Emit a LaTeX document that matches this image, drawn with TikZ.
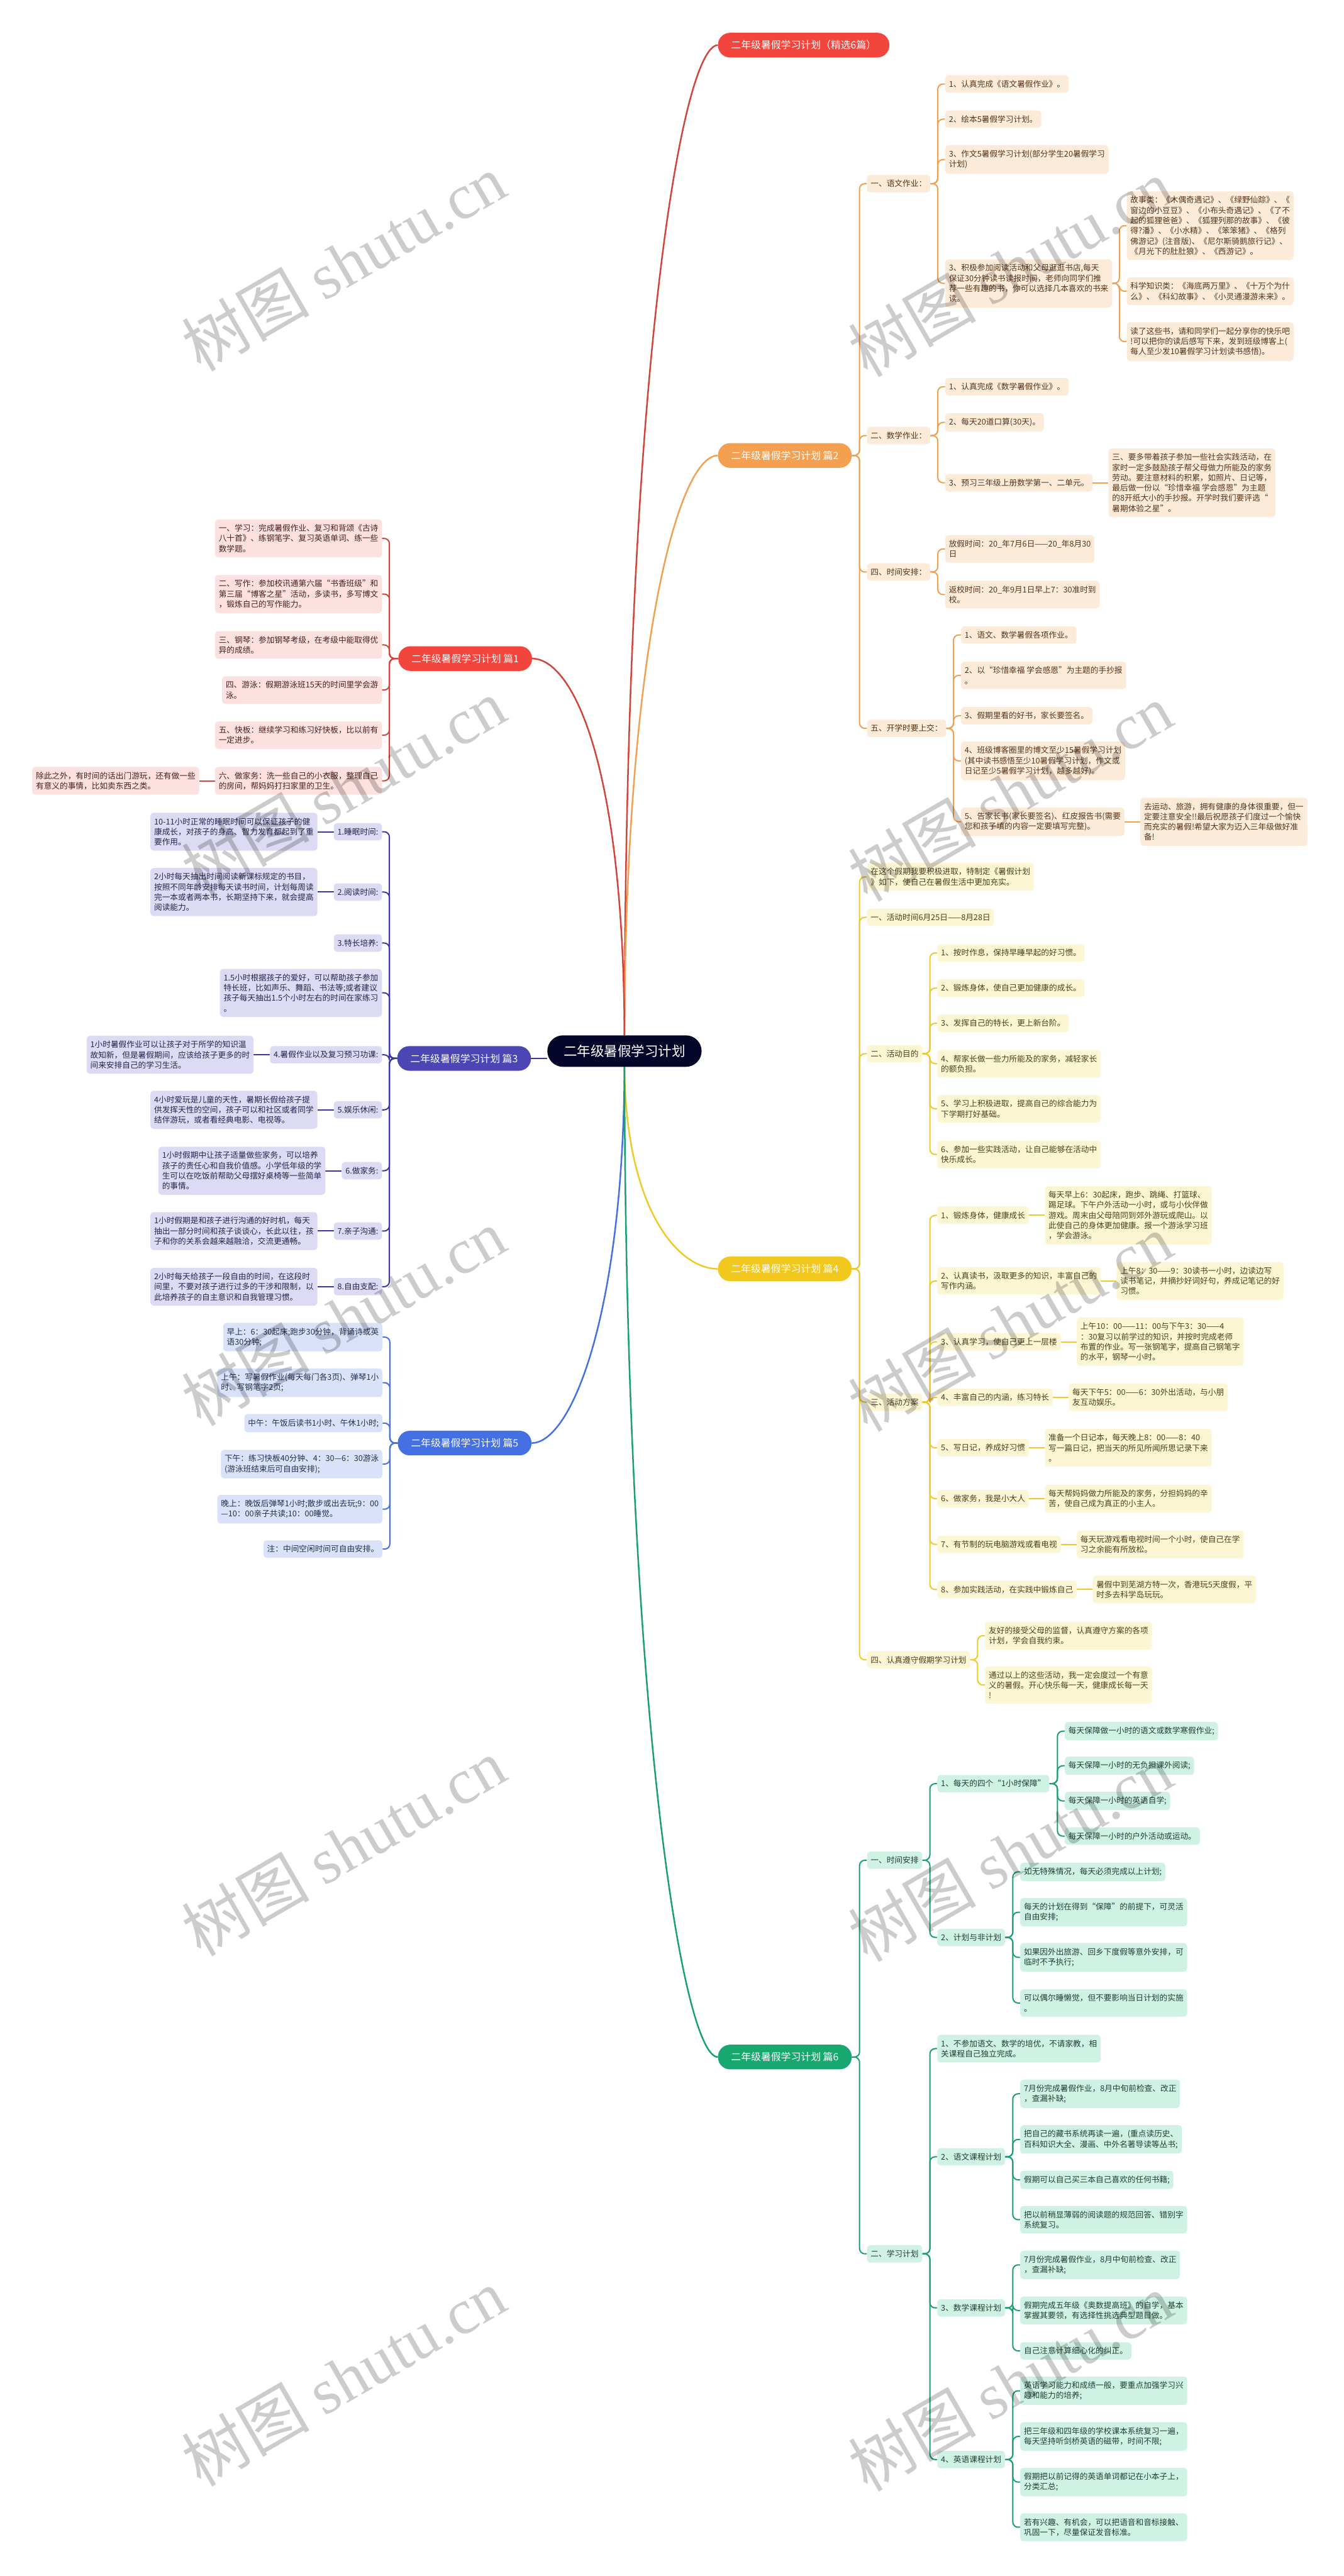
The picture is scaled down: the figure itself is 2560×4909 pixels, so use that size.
\documentclass[tikz,border=0pt]{standalone}
\usepackage{fontspec}
\newfontfamily\cjk{Noto Sans CJK SC}
\newfontfamily\wmlat{Liberation Serif}
\usetikzlibrary{backgrounds}
\definecolor{rootc}{HTML}{06062A}
\definecolor{redc}{HTML}{F2453D}\definecolor{redline}{HTML}{D0443C}\definecolor{redbox}{HTML}{FDE0E0}\definecolor{redtext}{HTML}{4A2020}
\definecolor{orc}{HTML}{F4A050}\definecolor{orline}{HTML}{F0A050}\definecolor{orbox}{HTML}{FDEBDA}\definecolor{ortext}{HTML}{553518}
\definecolor{yec}{HTML}{F2C81F}\definecolor{yeline}{HTML}{F0C828}\definecolor{yebox}{HTML}{FDF6D5}\definecolor{yetext}{HTML}{4A4020}
\definecolor{grc}{HTML}{17A870}\definecolor{grline}{HTML}{1AA070}\definecolor{grbox}{HTML}{D0F2E4}\definecolor{grtext}{HTML}{1F4034}
\definecolor{puc}{HTML}{4B46B4}\definecolor{puline}{HTML}{3D389F}\definecolor{pubox}{HTML}{DDDBF3}\definecolor{putext}{HTML}{27244F}
\definecolor{blc}{HTML}{4470E3}\definecolor{blline}{HTML}{4470E3}\definecolor{blbox}{HTML}{DAE2FA}\definecolor{bltext}{HTML}{22304F}
\newcommand\cnR[3]{\draw[ln,#1] (#2.east) -| ([xshift=-14pt]#3.west) -- (#3.west);}
\newcommand\cnL[3]{\draw[ln,#1] (#2.west) -| ([xshift=14pt]#3.east) -- (#3.east);}
\newcommand\stR[3]{\draw[ln,#1] (#2.east) -- (#3.west);}
\newcommand\stL[3]{\draw[ln,#1] (#2.west) -- (#3.east);}
\begin{document}
\begin{tikzpicture}[x=1pt,y=-1pt,
  box/.style={rounded corners=6pt, inner xsep=7pt, inner ysep=9.5pt, align=left, font=\cjk\fontsize{15.2}{19.5}\selectfont},
  br/.style={box, fill=redbox, text=redtext},
  bo/.style={box, fill=orbox, text=ortext},
  by/.style={box, fill=yebox, text=yetext},
  bg/.style={box, fill=grbox, text=grtext},
  bp/.style={box, fill=pubox, text=putext},
  bb/.style={box, fill=blbox, text=bltext},
  lvone/.style={rounded corners=23pt, minimum height=47pt, inner xsep=25pt, inner ysep=0pt, text=white, font=\cjk\fontsize{19}{22}\selectfont},
  rootstyle/.style={fill=rootc, text=white, rounded corners=30pt, minimum width=294pt, minimum height=60pt, font=\cjk\fontsize{25.8}{28}\selectfont},
  ln/.style={line width=2.4pt, rounded corners=10pt},
  lw/.style={line width=3pt},
  wm/.style={rotate=30, text=black, opacity=0.2, inner sep=0pt, font=\cjk\fontsize{122}{122}\selectfont}
]
\useasboundingbox (0,0) rectangle (2560,4909);

\node[rootstyle] (root) at (1190,2003) {二年级暑假学习计划};

% top red
\node[lvone, fill=redc, anchor=west] (p0) at (1368,86) {二年级暑假学习计划（精选6篇）};

% ===== 篇2 =====
\node[lvone, fill=orc, anchor=west] (p2) at (1368,868) {二年级暑假学习计划 篇2};
\node[bo, anchor=west] (a) at (1652,350) {一、语文作业：};
\node[bo, anchor=west] (a1) at (1801,160) {1、认真完成《语文暑假作业》。};
\node[bo, anchor=west] (a2) at (1801,227) {2、绘本5暑假学习计划。};
\node[bo, anchor=west] (a3) at (1801,304) {3、作文5暑假学习计划(部分学生20暑假学习\\计划)};
\node[bo, anchor=west] (a4) at (1801,540) {3、积极参加阅读活动和父母逛逛书店,每天\\保证30分钟读书读报时间，老师向同学们推\\荐一些有趣的书，你可以选择几本喜欢的书来\\读。};
\node[bo, anchor=west] (a41) at (2147,430) {故事类：《木偶奇遇记》、《绿野仙踪》、《\\窗边的小豆豆》、《小布头奇遇记》、《了不\\起的狐狸爸爸》、《狐狸列那的故事》、《彼\\得?潘》、《小水精》、《笨笨猪》、《格列\\佛游记》(注音版)、《尼尔斯骑鹅旅行记》、\\《月光下的肚肚狼》、《西游记》。};
\node[bo, anchor=west] (a42) at (2147,555) {科学知识类：《海底两万里》、《十万个为什\\么》、《科幻故事》、《小灵通漫游未来》。};
\node[bo, anchor=west] (a43) at (2147,651) {读了这些书，请和同学们一起分享你的快乐吧\\!可以把你的读后感写下来，发到班级博客上(\\每人至少发10暑假学习计划读书感悟)。};
\node[bo, anchor=west] (b) at (1652,830) {二、数学作业：};
\node[bo, anchor=west] (b1) at (1801,737) {1、认真完成《数学暑假作业》。};
\node[bo, anchor=west] (b2) at (1801,805) {2、每天20道口算(30天)。};
\node[bo, anchor=west] (b3) at (1801,920) {3、预习三年级上册数学第一、二单元。};
\node[bo, anchor=west] (b31) at ([xshift=30pt]b3.east) {三、要多带着孩子参加一些社会实践活动，在\\家时一定多鼓励孩子帮父母做力所能及的家务\\劳动。要注意材料的积累，如照片、日记等，\\最后做一份以“珍惜幸福 学会感恩”为主题\\的8开纸大小的手抄报。开学时我们要评选“\\暑期体验之星”。};
\node[bo, anchor=west] (c) at (1652,1090) {四、时间安排：};
\node[bo, anchor=west] (c1) at (1801,1046) {放假时间：20\_年7月6日——20\_年8月30\\日};
\node[bo, anchor=west] (c2) at (1801,1133) {返校时间：20\_年9月1日早上7：30准时到\\校。};
\node[bo, anchor=west] (d) at (1652,1388) {五、开学时要上交：};
\node[bo, anchor=west] (d1) at (1831,1210) {1、语文、数学暑假各项作业。};
\node[bo, anchor=west] (d2) at (1831,1287) {2、以“珍惜幸福 学会感恩”为主题的手抄报\\。};
\node[bo, anchor=west] (d3) at (1831,1364) {3、假期里看的好书，家长要签名。};
\node[bo, anchor=west] (d4) at (1831,1450) {4、班级博客圈里的博文至少15暑假学习计划\\(其中读书感悟至少10暑假学习计划，作文或\\日记至少5暑假学习计划，越多越好)。};
\node[bo, anchor=west] (d5) at (1831,1566) {5、告家长书(家长要签名)、红皮报告书(需要\\您和孩子填的内容一定要填写完整)。};
\node[bo, anchor=west] (d51) at ([xshift=30pt]d5.east) {去运动、旅游，拥有健康的身体很重要，但一\\定要注意安全!!最后祝愿孩子们度过一个愉快\\而充实的暑假!希望大家为迈入三年级做好准\\备!};

% ===== 篇1 =====
\node[lvone, fill=redc, anchor=east] (p1) at (1014,1255) {二年级暑假学习计划 篇1};
\node[br, anchor=east] (e1) at (728,1026) {一、学习：完成暑假作业、复习和背颂《古诗\\八十首》、练钢笔字、复习英语单词、练一些\\数学题。};
\node[br, anchor=east] (e2) at (728,1132) {二、写作：参加校讯通第六届“书香班级”和\\第三届“博客之星”活动，多读书，多写博文\\，锻炼自己的写作能力。};
\node[br, anchor=east] (e3) at (728,1229) {三、钢琴：参加钢琴考级，在考级中能取得优\\异的成绩。};
\node[br, anchor=east] (e4) at (728,1315) {四、游泳：假期游泳班15天的时间里学会游\\泳。};
\node[br, anchor=east] (e5) at (728,1401) {五、快板：继续学习和练习好快板，比以前有\\一定进步。};
\node[br, anchor=east] (e6) at (728,1488) {六、做家务：洗一些自己的小衣服，整理自己\\的房间，帮妈妈打扫家里的卫生。};
\node[br, anchor=east] (e61) at ([xshift=-30pt]e6.west) {除此之外，有时间的话出门游玩，还有做一些\\有意义的事情，比如卖东西之类。};

% ===== 篇3 =====
\node[lvone, fill=puc, anchor=east] (p3) at (1012,2017) {二年级暑假学习计划 篇3};
\node[bp, anchor=east] (f1) at (728,1585) {1.睡眠时间:};
\node[bp, anchor=east] (f1t) at ([xshift=-31pt]f1.west) {10-11小时正常的睡眠时间可以保证孩子的健\\康成长，对孩子的身高、智力发育都起到了重\\要作用。};
\node[bp, anchor=east] (f2) at (728,1700) {2.阅读时间:};
\node[bp, anchor=east] (f2t) at ([xshift=-31pt]f2.west) {2小时每天抽出时间阅读新课标规定的书目，\\按照不同年龄安排每天读书时间，计划每周读\\完一本或者两本书，长期坚持下来，就会提高\\阅读能力。};
\node[bp, anchor=east] (f3) at (728,1797) {3.特长培养:};
\node[bp, anchor=east] (f3b) at (728,1892) {1.5小时根据孩子的爱好，可以帮助孩子参加\\特长班，比如声乐、舞蹈、书法等;或者建议\\孩子每天抽出1.5个小时左右的时间在家练习\\。};
\node[bp, anchor=east] (f4) at (728,2010) {4.暑假作业以及复习预习功课:};
\node[bp, anchor=east] (f4t) at ([xshift=-31pt]f4.west) {1小时暑假作业可以让孩子对于所学的知识温\\故知新，但是暑假期间，应该给孩子更多的时\\间来安排自己的学习生活。};
\node[bp, anchor=east] (f5) at (728,2115) {5.娱乐休闲:};
\node[bp, anchor=east] (f5t) at ([xshift=-31pt]f5.west) {4小时爱玩是儿童的天性，暑期长假给孩子提\\供发挥天性的空间，孩子可以和社区或者同学\\结伴游玩，或者看经典电影、电视等。};
\node[bp, anchor=east] (f6) at (728,2231) {6.做家务:};
\node[bp, anchor=east] (f6t) at ([xshift=-31pt]f6.west) {1小时假期中让孩子适量做些家务，可以培养\\孩子的责任心和自我价值感。小学低年级的学\\生可以在吃饭前帮助父母摆好桌椅等一些简单\\的事情。};
\node[bp, anchor=east] (f7) at (728,2346) {7.亲子沟通:};
\node[bp, anchor=east] (f7t) at ([xshift=-31pt]f7.west) {1小时假期是和孩子进行沟通的好时机，每天\\抽出一部分时间和孩子谈谈心，长此以往，孩\\子和你的关系会越来越融洽，交流更通畅。};
\node[bp, anchor=east] (f8) at (728,2452) {8.自由支配:};
\node[bp, anchor=east] (f8t) at ([xshift=-31pt]f8.west) {2小时每天给孩子一段自由的时间，在这段时\\间里，不要对孩子进行过多的干涉和限制，以\\此培养孩子的自主意识和自我管理习惯。};

% ===== 篇5 =====
\node[lvone, fill=blc, anchor=east] (p5) at (1013,2750) {二年级暑假学习计划 篇5};
\node[bb, anchor=east] (g1) at (729,2548) {早上：6：30起床;跑步30分钟，背诵诗或英\\语30分钟;};
\node[bb, anchor=east] (g2) at (729,2635) {上午：写暑假作业(每天每门各3页)、弹琴1小\\时、写钢笔字2页;};
\node[bb, anchor=east] (g3) at (729,2712) {中午：午饭后读书1小时、午休1小时;};
\node[bb, anchor=east] (g4) at (729,2790) {下午：练习快板40分钟、4：30—6：30游泳\\(游泳班结束后可自由安排);};
\node[bb, anchor=east] (g5) at (729,2876) {晚上：晚饭后弹琴1小时;散步或出去玩;9：00\\—10：00亲子共读;10：00睡觉。};
\node[bb, anchor=east] (g6) at (729,2952) {注：中间空闲时间可自由安排。};

% ===== 篇4 =====
\node[lvone, fill=yec, anchor=west] (p4) at (1368,2418) {二年级暑假学习计划 篇4};
\node[by, anchor=west] (h0) at (1652,1671) {在这个假期我要积极进取，特制定《暑假计划\\》如下，使自己在暑假生活中更加充实。};
\node[by, anchor=west] (h1) at (1652,1748) {一、活动时间6月25日——8月28日};
\node[by, anchor=west] (h2) at (1652,2008) {二、活动目的};
\node[by, anchor=west] (h21) at (1786,1816) {1、按时作息，保持早睡早起的好习惯。};
\node[by, anchor=west] (h22) at (1786,1883) {2、锻炼身体，使自己更加健康的成长。};
\node[by, anchor=west] (h23) at (1786,1950) {3、发挥自己的特长，更上新台阶。};
\node[by, anchor=west] (h24) at (1786,2027) {4、帮家长做一些力所能及的家务，减轻家长\\的额负担。};
\node[by, anchor=west] (h25) at (1786,2113) {5、学习上积极进取，提高自己的综合能力为\\下学期打好基础。};
\node[by, anchor=west] (h26) at (1786,2200) {6、参加一些实践活动，让自己能够在活动中\\快乐成长。};
\node[by, anchor=west] (h3) at (1652,2672) {三、活动方案};
\node[by, anchor=west] (h31) at (1786,2316) {1、锻炼身体，健康成长};
\node[by, anchor=west] (h31c) at ([xshift=30pt]h31.east) {每天早上6：30起床，跑步、跳绳、打篮球、\\踢足球。下午户外活动一小时，或与小伙伴做\\游戏。周末由父母陪同到郊外游玩或爬山。以\\此使自己的身体更加健康。报一个游泳学习班\\，学会游泳。};
\node[by, anchor=west] (h32) at (1786,2441) {2、认真读书，汲取更多的知识，丰富自己的\\写作内涵。};
\node[by, anchor=west] (h32c) at ([xshift=30pt]h32.east) {上午8：30——9：30读书一小时，边读边写\\读书笔记，并摘抄好词好句，养成记笔记的好\\习惯。};
\node[by, anchor=west] (h33) at (1786,2557) {3、认真学习，使自己更上一层楼};
\node[by, anchor=west] (h33c) at ([xshift=30pt]h33.east) {上午10：00——11：00与下午3：30——4\\：30复习以前学过的知识，并按时完成老师\\布置的作业。写一张钢笔字，提高自己钢笔字\\的水平，钢琴一小时。};
\node[by, anchor=west] (h34) at (1786,2663) {4、丰富自己的内涵，练习特长};
\node[by, anchor=west] (h34c) at ([xshift=30pt]h34.east) {每天下午5：00——6：30外出活动，与小朋\\友互动娱乐。};
\node[by, anchor=west] (h35) at (1786,2759) {5、写日记，养成好习惯};
\node[by, anchor=west] (h35c) at ([xshift=30pt]h35.east) {准备一个日记本，每天晚上8：00——8：40\\写一篇日记，把当天的所见所闻所思记录下来\\。};
\node[by, anchor=west] (h36) at (1786,2856) {6、做家务，我是小大人};
\node[by, anchor=west] (h36c) at ([xshift=30pt]h36.east) {每天帮妈妈做力所能及的家务，分担妈妈的辛\\苦，使自己成为真正的小主人。};
\node[by, anchor=west] (h37) at (1786,2943) {7、有节制的玩电脑游戏或看电视};
\node[by, anchor=west] (h37c) at ([xshift=30pt]h37.east) {每天玩游戏看电视时间一个小时，使自己在学\\习之余能有所放松。};
\node[by, anchor=west] (h38) at (1786,3029) {8、参加实践活动，在实践中锻炼自己};
\node[by, anchor=west] (h38c) at ([xshift=30pt]h38.east) {暑假中到芜湖方特一次，香港玩5天度假，平\\时多去科学岛玩玩。};
\node[by, anchor=west] (h4) at (1652,3163) {四、认真遵守假期学习计划};
\node[by, anchor=west] (h41) at (1877,3117) {友好的接受父母的监督，认真遵守方案的各项\\计划，学会自我约束。};
\node[by, anchor=west] (h42) at (1877,3211) {通过以上的这些活动，我一定会度过一个有意\\义的暑假。开心快乐每一天，健康成长每一天\\!};

% ===== 篇6 =====
\node[lvone, fill=grc, anchor=west] (p6) at (1368,3920) {二年级暑假学习计划 篇6};
\node[bg, anchor=west] (k1) at (1652,3545) {一、时间安排};
\node[bg, anchor=west] (k11) at (1786,3399) {1、每天的四个“1小时保障”};
\node[bg, anchor=west] (k111) at (2029,3299) {每天保障做一小时的语文或数学寒假作业;};
\node[bg, anchor=west] (k112) at (2029,3365) {每天保障一小时的无负担课外阅读;};
\node[bg, anchor=west] (k113) at (2029,3432) {每天保障一小时的英语自学;};
\node[bg, anchor=west] (k114) at (2029,3499) {每天保障一小时的户外活动或运动。};
\node[bg, anchor=west] (k12) at (1786,3692) {2、计划与非计划};
\node[bg, anchor=west] (k121) at (1944,3567) {如无特殊情况，每天必须完成以上计划;};
\node[bg, anchor=west] (k122) at (1944,3644) {每天的计划在得到“保障”的前提下，可灵活\\自由安排;};
\node[bg, anchor=west] (k123) at (1944,3730) {如果因外出旅游、回乡下度假等意外安排，可\\临时不予执行;};
\node[bg, anchor=west] (k124) at (1944,3817) {可以偶尔睡懒觉，但不要影响当日计划的实施\\。};
\node[bg, anchor=west] (k2) at (1652,4295) {二、学习计划};
\node[bg, anchor=west] (k21) at (1786,3904) {1、不参加语文、数学的培优，不请家教，相\\关课程自己独立完成。};
\node[bg, anchor=west] (k22) at (1786,4110) {2、语文课程计划};
\node[bg, anchor=west] (k221) at (1944,3990) {7月份完成暑假作业，8月中旬前检查、改正\\，查漏补缺;};
\node[bg, anchor=west] (k222) at (1944,4077) {把自己的藏书系统再读一遍，(重点读历史、\\百科知识大全、漫画、中外名著导读等丛书;};
\node[bg, anchor=west] (k223) at (1944,4154) {假期可以自己买三本自己喜欢的任何书籍;};
\node[bg, anchor=west] (k224) at (1944,4230) {把以前稍显薄弱的阅读题的规范回答、错别字\\系统复习。};
\node[bg, anchor=west] (k23) at (1786,4398) {3、数学课程计划};
\node[bg, anchor=west] (k231) at (1944,4316) {7月份完成暑假作业，8月中旬前检查、改正\\，查漏补缺;};
\node[bg, anchor=west] (k232) at (1944,4403) {假期完成五年级《奥数提高班》的自学，基本\\掌握其要领，有选择性挑选典型题目做。};
\node[bg, anchor=west] (k233) at (1944,4480) {自己注意计算细心化的纠正。};
\node[bg, anchor=west] (k24) at (1786,4687) {4、英语课程计划};
\node[bg, anchor=west] (k241) at (1944,4556) {英语学习能力和成绩一般，要重点加强学习兴\\趣和能力的培养;};
\node[bg, anchor=west] (k242) at (1944,4643) {把三年级和四年级的学校课本系统复习一遍，\\每天坚持听剑桥英语的磁带，时间不限;};
\node[bg, anchor=west] (k243) at (1944,4730) {假期把以前记得的英语单词都记在小本子上，\\分类汇总;};
\node[bg, anchor=west] (k244) at (1944,4816) {若有兴趣、有机会，可以把语音和音标接触、\\巩固一下，尽量保证发音标准。};

\begin{scope}[on background layer]
\fill[white] (0,0) rectangle (2560,4909);
% root links
\draw[lw, redline] (root.north) .. controls (1192,700) and (1300,86) .. (p0.west);
\draw[lw, orline] (root.north) .. controls (1192,1250) and (1290,868) .. (p2.west);
\draw[lw, redline] (root.north) .. controls (1188,1450) and (1090,1255) .. (p1.east);
\draw[lw, puline] (p3.east) -- (p3.east -| root.west);
\draw[lw, yeline] (root.south) .. controls (1192,2300) and (1290,2418) .. (p4.west);
\draw[lw, blline] (root.south) .. controls (1188,2500) and (1090,2750) .. (p5.east);
\draw[lw, grline] (root.south) .. controls (1192,3250) and (1300,3920) .. (p6.west);
% 篇2
\foreach \c in {a,b,c,d} {\cnR{orline}{p2}{\c}}
\foreach \c in {a1,a2,a3,a4} {\cnR{orline}{a}{\c}}
\foreach \c in {a41,a42,a43} {\cnR{orline}{a4}{\c}}
\foreach \c in {b1,b2,b3} {\cnR{orline}{b}{\c}}
\stR{orline}{b3}{b31}
\foreach \c in {c1,c2} {\cnR{orline}{c}{\c}}
\foreach \c in {d1,d2,d3,d4,d5} {\cnR{orline}{d}{\c}}
\stR{orline}{d5}{d51}
% 篇1
\foreach \c in {e1,e2,e3,e4,e5,e6} {\cnL{redline}{p1}{\c}}
\stL{redline}{e6}{e61}
% 篇3
\foreach \c in {f1,f2,f3,f3b,f4,f5,f6,f7,f8} {\cnL{puline}{p3}{\c}}
\foreach \c in {f1,f2,f4,f5,f6,f7,f8} {\stL{puline}{\c}{\c t}}
% 篇5
\foreach \c in {g1,g2,g3,g4,g5,g6} {\cnL{blline}{p5}{\c}}
% 篇4
\foreach \c in {h0,h1,h2,h3,h4} {\cnR{yeline}{p4}{\c}}
\foreach \c in {h21,h22,h23,h24,h25,h26} {\cnR{yeline}{h2}{\c}}
\foreach \c in {h31,h32,h33,h34,h35,h36,h37,h38} {\cnR{yeline}{h3}{\c}\stR{yeline}{\c}{\c c}}
\foreach \c in {h41,h42} {\cnR{yeline}{h4}{\c}}
% 篇6
\foreach \c in {k1,k2} {\cnR{grline}{p6}{\c}}
\foreach \c in {k11,k12} {\cnR{grline}{k1}{\c}}
\foreach \c in {k111,k112,k113,k114} {\cnR{grline}{k11}{\c}}
\foreach \c in {k121,k122,k123,k124} {\cnR{grline}{k12}{\c}}
\foreach \c in {k21,k22,k23,k24} {\cnR{grline}{k2}{\c}}
\foreach \c in {k221,k222,k223,k224} {\cnR{grline}{k22}{\c}}
\foreach \c in {k231,k232,k233} {\cnR{grline}{k23}{\c}}
\foreach \c in {k241,k242,k243,k244} {\cnR{grline}{k24}{\c}}
\end{scope}

% watermarks
\foreach \i/\y in {1/500,2/1500,3/2510,4/3520,5/4530} {
  \node[wm] (wl\i) at (655,\y) {树图\ {\wmlat shutu.cn}};
  \node[wm] (wr\i) at (1925,\y+10) {树图\ {\wmlat shutu.cn}};
}
\end{tikzpicture}
\end{document}
